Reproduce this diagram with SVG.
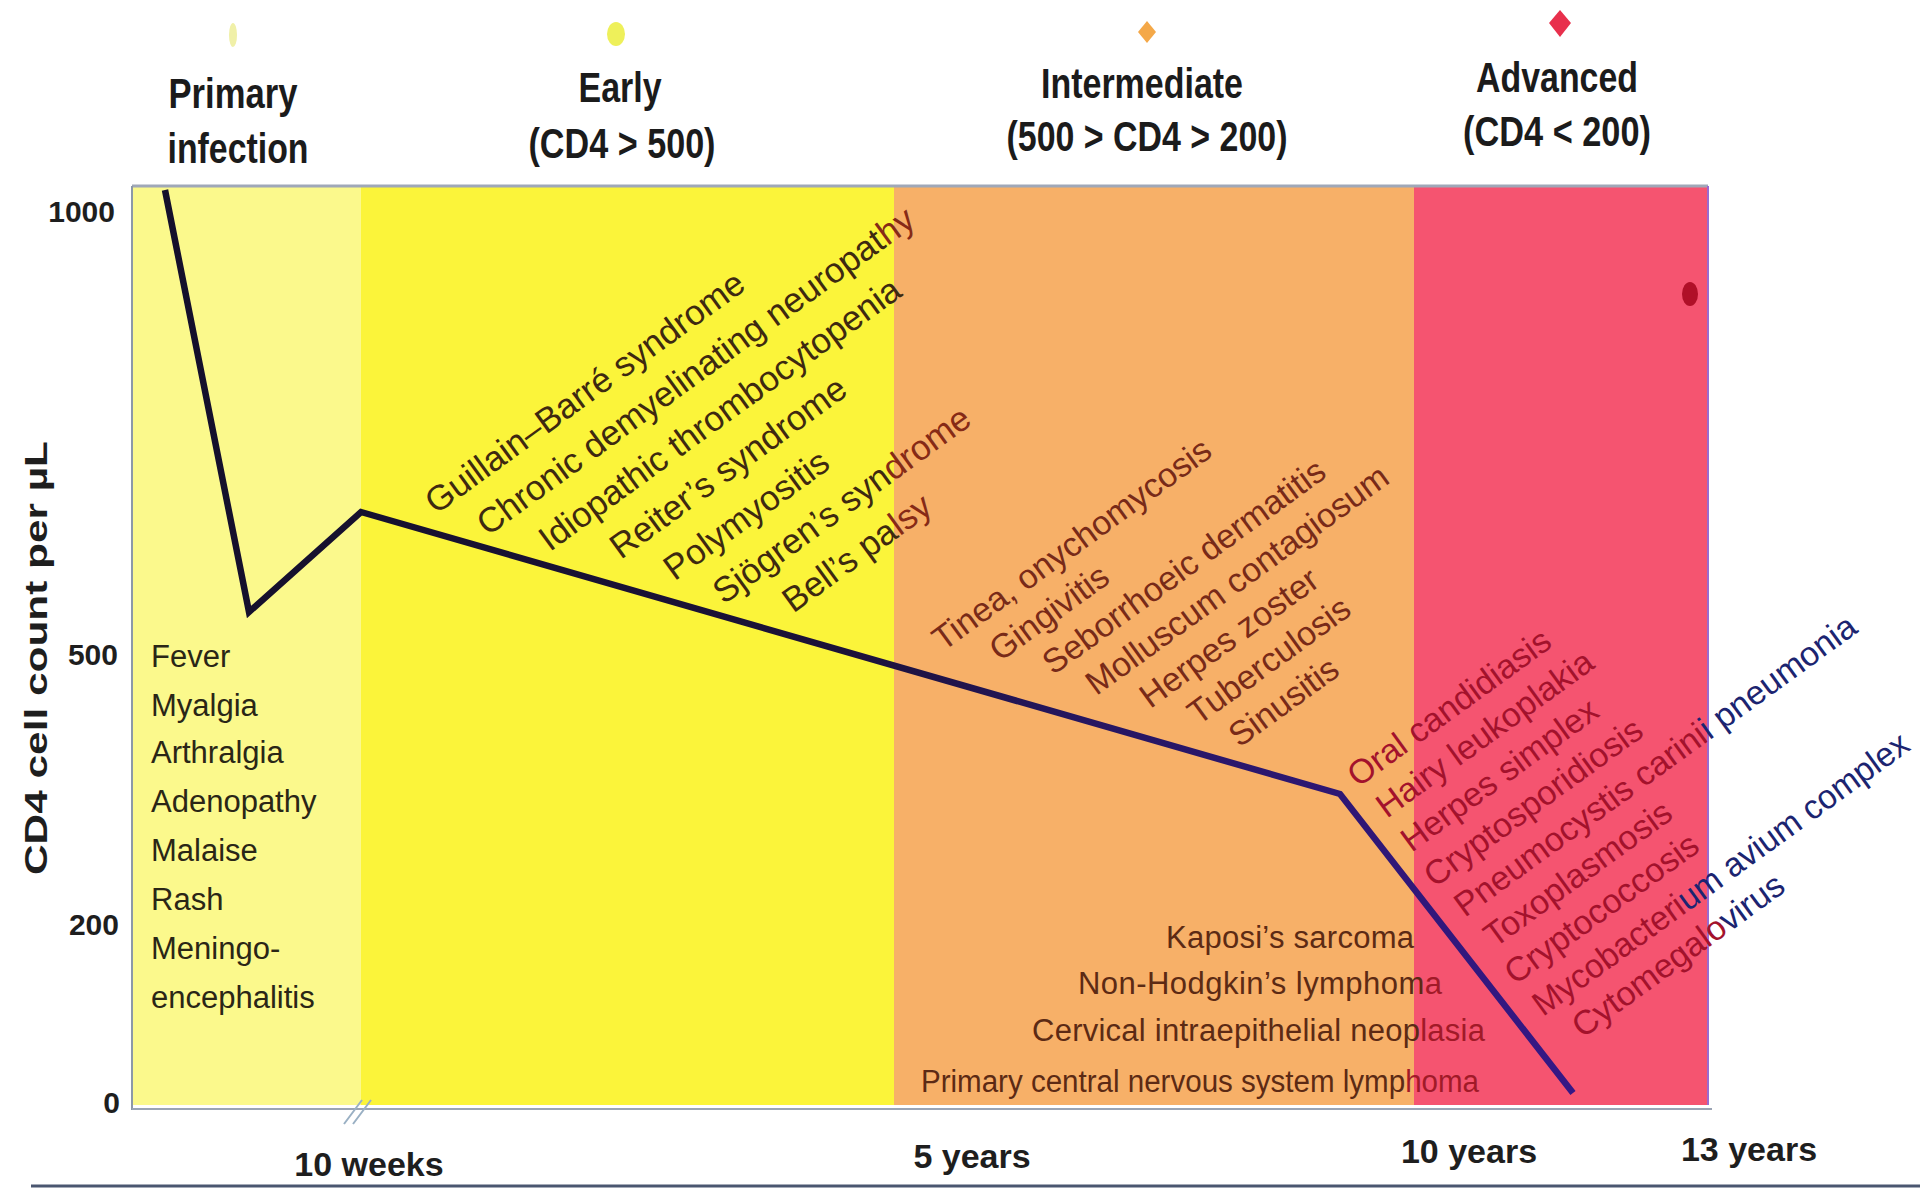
<svg xmlns="http://www.w3.org/2000/svg" width="1920" height="1189" viewBox="0 0 1920 1189">
<style>
text { font-family: "Liberation Sans", Arial, sans-serif; }
.hdr { font-size: 42px; font-weight: bold; fill: #1b1b1b; text-anchor: middle; }
.xl { font-size: 34px; font-weight: bold; fill: #1e1e1e; text-anchor: middle; }
.yl { font-size: 30px; font-weight: bold; fill: #1e1e1e; text-anchor: end; }
.sym { font-size: 31px; fill: #2a2616; }
.early { font-size: 35px; fill: #3e2910; }
.mid { font-size: 34px; fill: #782a18; }
.adv { font-size: 34px; fill: #a3122c; }
.low { font-size: 31px; fill: #5c2a14; }
.org { fill: #862a16; }
.red2 { fill: #a11a28; }
.navy { fill: #1c2470; }
.band { stroke: none; }
</style>
<defs>
<linearGradient id="curveGrad" gradientUnits="userSpaceOnUse" x1="132" y1="0" x2="1712" y2="0">
<stop offset="0" stop-color="#14102a"/>
<stop offset="0.45" stop-color="#1c1238"/>
<stop offset="0.6" stop-color="#261660"/>
<stop offset="1" stop-color="#3a1890"/>
</linearGradient>
</defs>
<rect x="0" y="0" width="1920" height="1189" fill="#ffffff"/>

<g id="bands">
<rect class="band" x="132" y="187" width="229" height="918" fill="#fbf98c"/>
<rect class="band" x="361" y="187" width="533" height="918" fill="#fbf43a"/>
<rect class="band" x="894" y="187" width="520" height="918" fill="#f7b068"/>
<rect class="band" x="1414" y="187" width="294" height="918" fill="#f55470"/>
<ellipse cx="1690" cy="294" rx="8" ry="12" fill="#b01028"/>
</g>

<g id="frame" fill="none">
<line x1="132" y1="186" x2="1708" y2="186" stroke="#a0a8b8" stroke-width="3"/>
<line x1="1708" y1="186" x2="1708" y2="1105" stroke="#9a6ad0" stroke-width="2"/>
<line x1="132" y1="186" x2="132" y2="1110" stroke="#8c98a8" stroke-width="2"/>
<line x1="132" y1="1109" x2="1712" y2="1109" stroke="#9aa4b4" stroke-width="2"/>
<path d="M344,1124 L362,1100 M353,1124 L371,1100" stroke="#9ab0c4" stroke-width="2"/>
<line x1="31" y1="1186" x2="1920" y2="1186" stroke="#4a5670" stroke-width="3"/>
</g>

<g id="markers">
<ellipse cx="233" cy="35" rx="4" ry="12" fill="#f0f0a8"/>
<ellipse cx="616" cy="34" rx="9" ry="12" fill="#eef05a"/>
<path d="M1147,21 L1156,32 L1147,43 L1138,32 Z" fill="#f4a848"/>
<path d="M1560,10 L1571,23 L1560,37 L1549,23 Z" fill="#e8304c"/>
</g>

<g id="headers">
<text class="hdr" x="233" y="108" textLength="129" lengthAdjust="spacingAndGlyphs">Primary</text>
<text class="hdr" x="238" y="163" textLength="141" lengthAdjust="spacingAndGlyphs">infection</text>
<text class="hdr" x="620" y="102" textLength="83" lengthAdjust="spacingAndGlyphs">Early</text>
<text class="hdr" x="622" y="158" textLength="187" lengthAdjust="spacingAndGlyphs">(CD4 &gt; 500)</text>
<text class="hdr" x="1142" y="98" textLength="202" lengthAdjust="spacingAndGlyphs">Intermediate</text>
<text class="hdr" x="1147" y="151" textLength="281" lengthAdjust="spacingAndGlyphs">(500 &gt; CD4 &gt; 200)</text>
<text class="hdr" x="1557" y="92" textLength="162" lengthAdjust="spacingAndGlyphs">Advanced</text>
<text class="hdr" x="1557" y="146" textLength="188" lengthAdjust="spacingAndGlyphs">(CD4 &lt; 200)</text>
</g>

<g id="y-axis">
<text class="yl" x="115" y="222">1000</text>
<text class="yl" x="118" y="665">500</text>
<text class="yl" x="119" y="935">200</text>
<text class="yl" x="120" y="1113">0</text>
<text transform="translate(47,658) rotate(-90)" text-anchor="middle" font-size="31" font-weight="bold" fill="#1e1e1e" textLength="434" lengthAdjust="spacingAndGlyphs">CD4 cell count per µL</text>
</g>

<g id="x-axis">
<text class="xl" x="369" y="1176">10 weeks</text>
<text class="xl" x="972" y="1168">5 years</text>
<text class="xl" x="1469" y="1163">10 years</text>
<text class="xl" x="1749" y="1161">13 years</text>
</g>

<g id="connectors">
<polyline points="165,190 249,612 361,512 1340,794 1573,1093" fill="none" stroke="url(#curveGrad)" stroke-width="6.5" stroke-linejoin="miter"/>
</g>

<g id="primary-symptoms" class="sym">
<text x="151" y="667">Fever</text>
<text x="151" y="716">Myalgia</text>
<text x="151" y="763">Arthralgia</text>
<text x="151" y="812">Adenopathy</text>
<text x="151" y="861">Malaise</text>
<text x="151" y="910">Rash</text>
<text x="151" y="959">Meningo-</text>
<text x="151" y="1008">encephalitis</text>
</g>

<g id="early-conditions" class="early" transform="translate(436,515) rotate(-36)">
<text x="0" y="0">Guillain–Barré syndrome</text>
<text x="29" y="48">Chronic demyelinating neuropat<tspan class="org">hy</tspan></text>
<text x="70" y="97">Idiopathic thrombocytopenia</text>
<text x="123" y="145">Reiter’s syndrome</text>
<text x="154" y="194">Polymyositis</text>
<text x="180" y="242">Sjögren’s syn<tspan class="org">drome</tspan></text>
<text x="231" y="290">Bell’s pa<tspan class="org">lsy</tspan></text>
</g>

<g id="intermediate-conditions" class="mid" transform="translate(943,652) rotate(-36)">
<text x="0" y="0">Tinea, onychomycosis</text>
<text x="40" y="42">Gingivitis</text>
<text x="75" y="84">Seborrhoeic dermatitis</text>
<text x="98" y="126">Molluscum contagiosum</text>
<text x="134" y="168">Herpes zoster</text>
<text x="163" y="210">Tuberculosis</text>
<text x="183" y="252">Sinusitis</text>
</g>

<g id="malignancies" class="low">
<text x="1166" y="948" textLength="248">Kaposi’s sarcoma</text>
<text x="1078" y="994" textLength="364">Non-Hodgkin’s lymphom<tspan class="red2">a</tspan></text>
<text x="1032" y="1041" textLength="453">Cervical intraepithelial neop<tspan class="red2">lasia</tspan></text>
<text x="921" y="1092" textLength="558" lengthAdjust="spacingAndGlyphs">Primary central nervous system lymp<tspan class="red2">homa</tspan></text>
</g>

<g id="advanced-conditions" class="adv" transform="translate(1358,788) rotate(-36)">
<text x="0" y="0">Oral candidiasis</text>
<text x="5" y="42">Hairy leukoplakia</text>
<text x="5" y="84">Herpes simplex</text>
<text x="3" y="126">Cryptosporidiosis</text>
<text x="10" y="168">Pneumocystis carini<tspan class="navy">i pneumonia</tspan></text>
<text x="16" y="210">Toxoplasmosis</text>
<text x="11" y="252">Cryptococcosis</text>
<text x="15" y="294" textLength="456" lengthAdjust="spacingAndGlyphs">Mycobacteri<tspan class="navy">um avium complex</tspan></text>
<text x="34" y="335">Cytomegalo<tspan class="navy">virus</tspan></text>
</g>
</svg>
